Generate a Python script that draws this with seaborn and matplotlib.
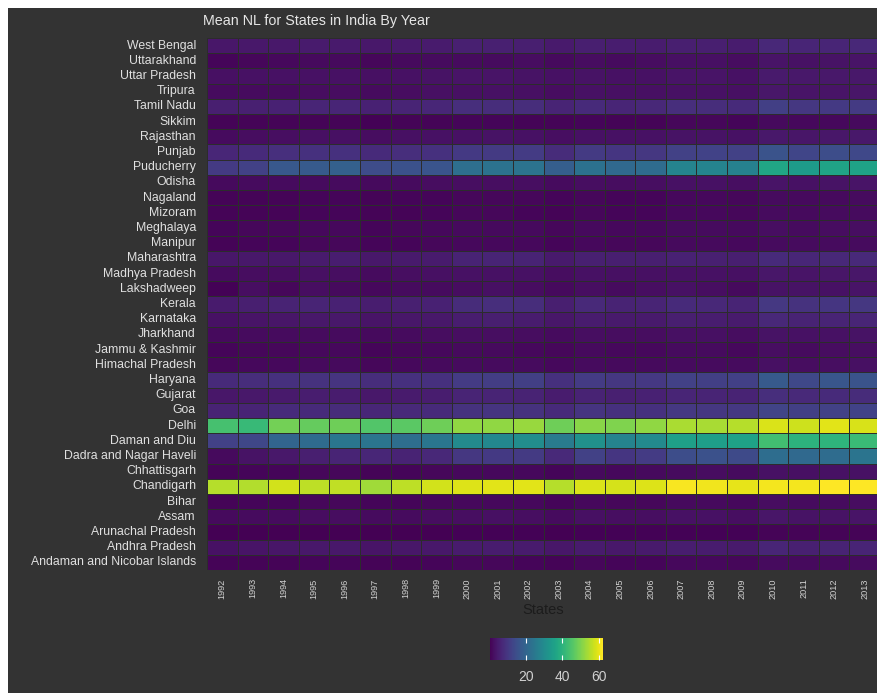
import numpy as np
import pandas as pd
import matplotlib
matplotlib.use("Agg")
import matplotlib.pyplot as plt
from matplotlib.patches import Rectangle
import seaborn as sns

years = [str(y) for y in range(1992, 2014)]

states = ["West Bengal", "Uttarakhand", "Uttar Pradesh", "Tripura", "Tamil Nadu",
          "Sikkim", "Rajasthan", "Punjab", "Puducherry", "Odisha", "Nagaland",
          "Mizoram", "Meghalaya", "Manipur", "Maharashtra", "Madhya Pradesh",
          "Lakshadweep", "Kerala", "Karnataka", "Jharkhand", "Jammu & Kashmir",
          "Himachal Pradesh", "Haryana", "Gujarat", "Goa", "Delhi", "Daman and Diu",
          "Dadra and Nagar Haveli", "Chhattisgarh", "Chandigarh", "Bihar", "Assam",
          "Arunachal Pradesh", "Andhra Pradesh", "Andaman and Nicobar Islands"]

west_bengal = [3.8,4.0,4.2,4.6,4.4,4.2,4.4,4.6,5.6,5.6,5.2,4.4,5.2,5.0,4.8,5.4,5.2,4.8,7.0,6.6,6.6,7.0]
uttarakhand = [1.0,1.2,1.4,1.6,1.6,1.2,1.6,1.8,2.0,2.0,2.2,1.6,2.2,2.0,2.2,2.6,2.6,2.2,3.4,3.0,3.2,3.4]
uttar_pradesh = [2.6,2.8,2.8,3.0,3.0,2.6,3.0,3.2,3.4,3.4,3.2,2.8,3.2,3.0,3.0,3.4,3.4,3.0,4.4,4.0,4.0,4.2]
tripura = [1.8,2.0,2.0,2.2,2.2,1.8,2.2,2.6,2.6,2.8,2.6,2.2,2.8,2.6,2.6,3.0,2.8,2.6,3.8,3.4,3.4,3.6]
tamil_nadu = [5.2,5.6,5.8,6.6,6.6,5.8,6.2,6.8,8.2,8.0,8.0,6.2,7.6,6.6,7.0,8.2,8.0,7.6,11.6,10.0,10.4,10.6]
sikkim = [0.6,0.6,0.6,0.8,0.8,0.5,0.6,0.8,1.0,1.0,0.8,0.6,1.0,0.8,0.8,1.2,1.2,0.9,1.6,1.4,1.4,1.6]
rajasthan = [2.0,2.2,2.4,2.6,2.6,2.2,2.6,2.8,3.0,3.2,3.0,2.4,3.0,2.8,2.8,3.2,3.2,2.8,4.2,3.6,3.8,4.0]
punjab = [6.8,7.4,8.4,8.6,8.6,7.6,8.2,8.6,10.4,10.6,10.8,7.8,10.6,9.6,10.0,12.0,12.4,12.0,16.0,12.8,14.6,13.6]
puducherry = [10.6,12.0,17.0,17.4,19.0,14.4,15.4,16.2,22.6,23.6,23.8,18.4,23.2,21.0,21.8,28.0,28.0,27.2,36.8,34.0,36.2,35.8]
odisha = [1.6,1.8,1.8,2.0,2.0,1.6,2.0,2.2,2.4,2.4,2.4,2.0,2.4,2.2,2.4,2.8,2.8,2.4,3.4,3.0,3.2,3.4]
nagaland = [0.6,0.8,0.8,1.0,1.0,0.8,1.0,1.0,1.2,1.2,1.2,0.9,1.2,1.0,1.0,1.4,1.4,1.2,1.8,1.6,1.6,1.8]
mizoram = [0.6,0.8,0.8,1.0,1.0,0.8,0.8,1.0,1.2,1.2,1.0,0.8,1.2,1.0,1.0,1.4,1.4,1.2,1.8,1.6,1.8,1.8]
meghalaya = [1.0,1.2,1.2,1.4,1.4,1.0,1.2,1.4,1.6,1.6,1.6,1.2,1.6,1.4,1.4,1.8,1.8,1.6,2.4,2.0,2.2,2.4]
manipur = [0.8,1.0,1.0,1.2,1.2,0.9,1.0,1.2,1.4,1.4,1.4,1.0,1.4,1.2,1.2,1.6,1.6,1.4,2.0,1.8,1.8,2.0]
maharashtra = [3.8,4.0,4.2,4.6,5.0,4.2,4.4,4.6,6.0,6.2,6.0,4.4,5.6,5.2,5.4,5.8,5.6,5.2,7.4,6.8,7.0,7.2]
madhya_pradesh = [2.0,2.2,2.2,2.6,2.4,2.0,2.4,2.6,2.8,3.0,2.8,2.2,2.8,2.6,2.6,3.0,3.0,2.6,3.8,3.4,3.6,3.8]
lakshadweep = [0.4,2.4,1.2,2.4,1.6,1.4,2.0,2.0,2.2,2.6,2.2,1.6,2.4,1.8,2.4,2.8,2.4,1.6,3.2,3.2,3.0,3.4]
kerala = [4.6,5.2,6.0,6.4,5.8,5.0,5.6,5.8,7.8,8.2,8.0,5.2,7.2,6.0,6.4,7.4,7.0,6.4,10.2,9.0,9.6,10.0]
karnataka = [3.0,3.4,3.6,4.0,4.0,3.4,3.8,4.2,5.0,5.2,4.8,3.8,4.8,4.4,4.4,5.2,5.0,4.6,7.0,6.0,6.4,6.6]
jharkhand = [1.6,1.8,1.8,2.0,2.0,1.6,2.0,2.2,2.4,2.4,2.2,1.8,2.4,2.2,2.2,2.6,2.6,2.2,3.2,2.8,3.0,3.2]
jammu_kashmir = [1.0,1.2,1.2,1.4,1.4,1.0,1.2,1.4,1.6,1.6,1.4,1.2,1.6,1.4,1.4,1.8,1.8,1.4,2.4,2.0,2.2,2.4]
himachal_pradesh = [1.2,1.4,1.4,1.6,1.6,1.2,1.4,1.6,1.8,1.8,1.8,1.4,1.8,1.6,1.6,2.0,2.0,1.8,2.6,2.2,2.4,2.6]
haryana = [7.6,8.0,8.6,9.0,9.4,8.0,8.6,8.8,11.0,11.2,11.6,8.8,11.0,10.0,10.2,12.0,11.6,11.8,17.4,13.6,16.8,16.0]
gujarat = [3.8,4.2,4.4,5.0,4.8,4.2,4.6,5.0,6.2,6.4,6.0,4.8,6.0,5.6,5.8,6.6,6.4,6.0,8.2,7.2,7.6,7.8]
goa = [6.0,6.4,7.4,7.6,7.8,6.8,7.2,7.6,9.0,9.4,9.0,7.6,9.4,8.6,8.8,10.2,10.0,10.2,12.6,11.6,12.2,12.4]
delhi = [44.0,42.0,49.0,47.6,48.6,45.4,46.4,48.4,52.0,52.0,52.6,48.6,51.2,50.2,52.0,54.2,54.0,55.2,58.6,57.4,59.4,58.4]
daman_diu = [12.0,13.2,20.2,21.6,24.4,24.2,22.4,24.6,29.6,29.0,30.4,25.6,31.2,28.2,29.6,35.2,34.6,36.0,43.4,40.0,40.6,42.2]
dadra_nagar_haveli = [1.6,3.2,4.2,5.4,6.2,6.8,6.0,7.0,10.0,10.4,10.6,7.2,12.0,9.8,11.0,14.6,15.4,14.0,22.0,21.0,21.8,24.0]
chhattisgarh = [0.8,1.0,1.0,1.2,1.2,0.8,1.0,1.2,1.4,1.4,1.4,1.0,1.6,1.4,1.6,2.0,2.2,2.0,3.0,2.6,2.8,3.0]
chandigarh = [55.4,55.0,58.0,56.0,56.2,53.4,56.0,58.0,59.0,59.4,59.4,55.4,58.6,58.2,59.0,61.6,60.8,60.0,61.0,61.0,62.0,62.2]
bihar = [0.8,1.0,1.0,1.2,1.2,0.9,1.0,1.2,1.4,1.4,1.4,1.0,1.4,1.2,1.2,1.6,1.6,1.4,2.2,1.8,2.0,2.2]
assam = [1.6,1.8,2.0,2.2,2.2,1.8,2.0,2.2,2.4,2.6,2.4,2.0,2.6,2.4,2.4,2.8,2.8,2.4,3.6,3.2,3.2,3.4]
arunachal_pradesh = [0.1,0.2,0.2,0.3,0.3,0.2,0.2,0.3,0.4,0.4,0.4,0.3,0.4,0.4,0.4,0.5,0.5,0.4,0.6,0.6,0.6,0.7]
andhra_pradesh = [3.0,3.4,3.6,4.0,4.0,3.4,3.8,4.0,4.6,4.8,4.6,3.8,4.6,4.2,4.4,5.0,4.8,4.4,6.6,5.6,6.0,6.2]
andaman_nicobar = [0.6,0.8,0.8,1.0,1.0,0.8,0.8,1.0,1.2,1.2,1.0,0.8,1.2,1.0,1.0,1.4,1.4,1.2,1.8,1.6,1.6,1.8]

rows = [west_bengal, uttarakhand, uttar_pradesh, tripura, tamil_nadu, sikkim,
        rajasthan, punjab, puducherry, odisha, nagaland, mizoram, meghalaya,
        manipur, maharashtra, madhya_pradesh, lakshadweep, kerala, karnataka,
        jharkhand, jammu_kashmir, himachal_pradesh, haryana, gujarat, goa, delhi,
        daman_diu, dadra_nagar_haveli, chhattisgarh, chandigarh, bihar, assam,
        arunachal_pradesh, andhra_pradesh, andaman_nicobar]

cbar_ticks = [20, 40, 60]

df = pd.DataFrame(rows, index=states, columns=years)

BG = "#333333"
W, H = 877, 693
fig = plt.figure(figsize=(W / 100, H / 100), dpi=100, facecolor="white")
fig.patches.append(Rectangle((8 / W, 0), 1, (H - 8) / H, transform=fig.transFigure,
                             facecolor=BG, edgecolor="none", zorder=-10))

ax = fig.add_axes([207 / W, 1 - 570 / H, (880 - 207) / W, (570 - 38) / H])
ax.set_facecolor(BG)
cax = fig.add_axes([489.5 / W, 1 - 660 / H, (602.7 - 489.5) / W, (660 - 638) / H])

sns.heatmap(df, ax=ax, cmap="viridis", vmin=float(df.values.min()),
            vmax=float(df.values.max()), linewidths=0.7, linecolor="#2c2c2c",
            cbar=True, cbar_ax=cax,
            cbar_kws={"orientation": "horizontal", "ticks": cbar_ticks})

plt.rcParams["font.family"] = ["Liberation Sans", "DejaVu Sans"]
font = "Liberation Sans"

ax.tick_params(axis="both", length=0)
ax.tick_params(axis="y", pad=8)
ax.tick_params(axis="x", pad=6)
ax.set_yticklabels(states, fontsize=8.8, color="#e0e0e0", family=font, rotation=0)
ax.set_xticklabels(years, fontsize=6.6, color="#d0d0d0", family=font, rotation=90)
ax.set_ylabel("")
ax.set_xlabel("States", fontsize=10.5, color="#1c1c1c", family=font, labelpad=3)
for s in ax.spines.values():
    s.set_visible(False)

fig.text(203 / W, 1 - 21 / H, "Mean NL for States in India By Year", ha="left",
         va="center", fontsize=10.3, color="#e6e6e6", family=font)

cb = ax.collections[0].colorbar
cb.outline.set_visible(False)
cax.tick_params(axis="x", direction="in", top=True, bottom=True, length=3.5,
                width=0.8, color="white", labelsize=10, labelcolor="#d0d0d0", pad=7)
for lab in cax.get_xticklabels():
    lab.set_family(font)

fig.savefig("out.png", dpi=100, facecolor=fig.get_facecolor())
